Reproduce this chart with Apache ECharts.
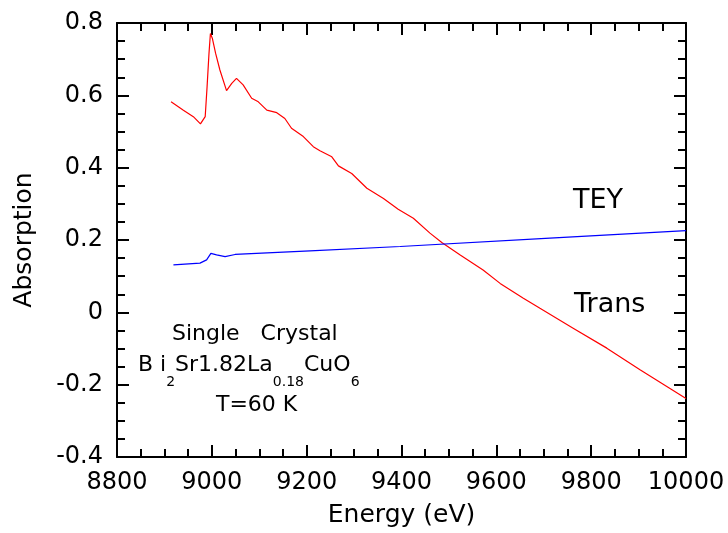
<!DOCTYPE html>
<html>
<head>
<meta charset="utf-8">
<script src="https://cdn.jsdelivr.net/npm/echarts@6/dist/echarts.min.js"></script>
<style>
  html, body { margin: 0; padding: 0; background: #fff; }
  #chart { width: 728px; height: 533px; }
</style>
</head>
<body>
<div id="chart"></div>
<script>
// Transmission (red) - energy in eV, absorption
const transEnergy = [8914, 8940, 8961, 8976, 8986, 8990, 8994, 8997, 9001, 9008, 9017, 9031, 9042, 9052, 9066, 9084, 9098, 9116, 9137, 9154, 9168, 9193, 9214, 9228, 9253, 9267, 9295, 9327, 9362, 9393, 9425, 9460, 9485, 9523, 9572, 9608, 9657, 9692, 9762, 9833, 9903, 10000];
const transValue = [0.582, 0.559, 0.541, 0.521, 0.541, 0.624, 0.716, 0.771, 0.758, 0.716, 0.670, 0.613, 0.633, 0.647, 0.629, 0.592, 0.582, 0.559, 0.552, 0.536, 0.509, 0.486, 0.458, 0.447, 0.430, 0.405, 0.384, 0.343, 0.315, 0.285, 0.260, 0.219, 0.193, 0.159, 0.117, 0.080, 0.039, 0.011, -0.044, -0.099, -0.159, -0.238];

// Total electron yield (blue)
const teyEnergy = [8919, 8975, 8989, 8998, 9010, 9028, 9049, 9207, 9397, 9713, 10000];
const teyValue = [0.131, 0.136, 0.145, 0.163, 0.159, 0.154, 0.160, 0.170, 0.182, 0.205, 0.226];

const xTicks = { min: 8800, max: 10000, interval: 200 };
const yTicks = { min: -0.4, max: 0.8, interval: 0.2 };

const font = "'DejaVu Sans', Verdana, sans-serif";

const pair = (xs, ys) => xs.map((x, i) => [x, ys[i]]);

const frameAxis = (extra) => Object.assign({
  type: "value",
  axisLine: { show: true, onZero: false, lineStyle: { color: "#000", width: 2 } },
  axisTick: { show: true, inside: true, length: 12, lineStyle: { color: "#000", width: 2 } },
  minorTick: { show: true, splitNumber: 4, length: 8, lineStyle: { color: "#000", width: 2 } },
  splitLine: { show: false },
  axisLabel: { show: false }
}, extra);

const chart = echarts.init(document.getElementById("chart"));
chart.setOption({
  animation: false,
  backgroundColor: "#fff",
  grid: { left: 117, right: 42, top: 23, bottom: 76 },
  xAxis: [
    frameAxis({
      position: "bottom", ...xTicks,
      name: "Energy (eV)", nameLocation: "middle", nameGap: 46,
      nameTextStyle: { fontFamily: font, fontSize: 25, color: "#000" },
      axisLabel: { show: true, margin: 14, fontFamily: font, fontSize: 24, color: "#000", formatter: (v) => String(v) }
    }),
    frameAxis({ position: "top", ...xTicks })
  ],
  yAxis: [
    frameAxis({
      position: "left", ...yTicks,
      name: "Absorption", nameLocation: "middle", nameGap: 80,
      nameTextStyle: { fontFamily: font, fontSize: 25, color: "#000" },
      axisLabel: { show: true, margin: 14, fontFamily: font, fontSize: 24, color: "#000" }
    }),
    frameAxis({ position: "right", ...yTicks })
  ],
  series: [
    {
      name: "Trans",
      type: "line",
      data: pair(transEnergy, transValue),
      symbol: "none",
      lineStyle: { color: "#ff0000", width: 1.2 }
    },
    {
      name: "TEY",
      type: "line",
      data: pair(teyEnergy, teyValue),
      symbol: "none",
      lineStyle: { color: "#0000ff", width: 1.2 }
    }
  ],
  graphic: [
    { type: "text", left: 573, top: 187, style: { text: "TEY", font: `27px ${font}`, fill: "#000" } },
    { type: "text", left: 574, top: 291, style: { text: "Trans", font: `27px ${font}`, fill: "#000" } },
    { type: "text", left: 172, top: 323, style: { text: "Single   Crystal", font: `22px ${font}`, fill: "#000" } },
    {
      type: "text", left: 138, top: 354,
      style: {
        text: "{n|B i}{s|2}{n|Sr1.82La}{s|0.18}{n|CuO}{s|6}",
        fill: "#000",
        rich: {
          n: { fontFamily: font, fontSize: 22, verticalAlign: "bottom", padding: [0, 0, 13, 0] },
          s: { fontFamily: font, fontSize: 14, verticalAlign: "bottom" }
        }
      }
    },
    { type: "text", left: 216, top: 394, style: { text: "T=60 K", font: `22px ${font}`, fill: "#000" } }
  ]
});
</script>
</body>
</html>
